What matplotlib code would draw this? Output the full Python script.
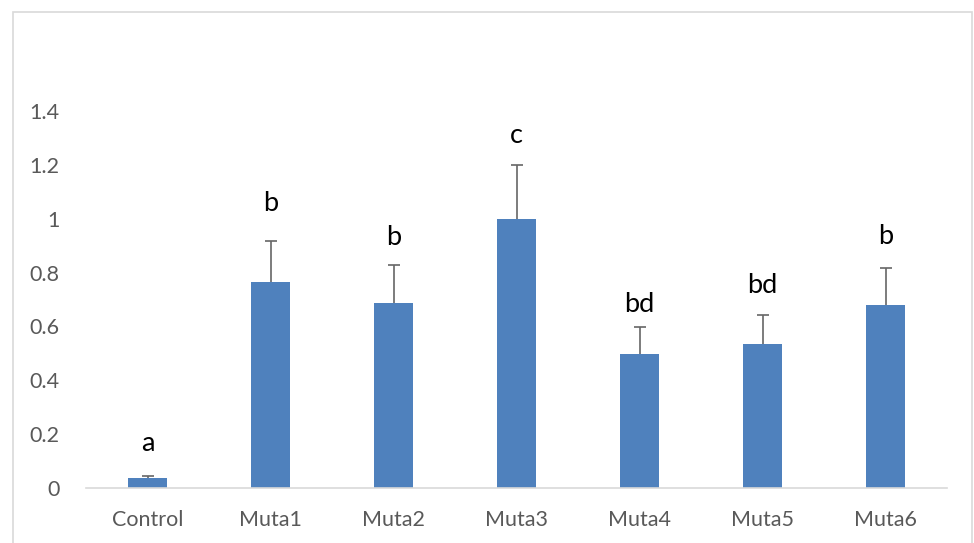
import matplotlib
matplotlib.use("Agg")
import matplotlib.pyplot as plt
from matplotlib.patches import Rectangle

# mean values, standard errors and significance groups per sample
groups = ["Control", "Muta1", "Muta2", "Muta3", "Muta4", "Muta5", "Muta6"]
means = [0.036, 0.764, 0.688, 1.0, 0.498, 0.534, 0.681]
errors = [0.009, 0.154, 0.140, 0.199, 0.101, 0.107, 0.137]
letters = ["a", "b", "b", "c", "bd", "bd", "b"]
letter_base = [0.138, 1.029, 0.902, 1.281, 0.654, 0.725, 0.905]
yticks = [0, 0.2, 0.4, 0.6, 0.8, 1.0, 1.2, 1.4]
ytick_labels = ["0", "0.2", "0.4", "0.6", "0.8", "1", "1.2", "1.4"]

plt.rcParams["font.family"] = ["Lato", "DejaVu Sans"]

W, H = 974, 543
fig = plt.figure(figsize=(W / 100, H / 100), dpi=100)
ax = fig.add_axes([86 / W, (H - 488) / H, (947 - 86) / W, (488 - 111) / H])

# outer chart border
fig.patches.append(Rectangle((12.5 / W, -0.05), (972 - 12.5) / W, (H - 12) / H + 0.05,
                             transform=fig.transFigure, fill=False,
                             edgecolor="#d9d9d9", linewidth=1.2))

x = list(range(len(groups)))
ax.bar(x, means, width=0.31, color="#4f81bd", zorder=2)
_, caps, _ = ax.errorbar(x, means, yerr=[[0] * len(errors), errors], fmt="none",
                         ecolor="#666666", elinewidth=1.2, capsize=4.3,
                         capthick=1.2, zorder=3)
# only the upper whisker gets a cap
caps[0].set_visible(False)

for xi, lab, yb in zip(x, letters, letter_base):
    ax.text(xi, yb, lab, ha="center", va="baseline", fontsize=19.5, color="black")

ax.set_xlim(-0.5, len(groups) - 0.5)
ax.set_ylim(0, 1.4)
ax.set_yticks(yticks)
ax.set_yticklabels(ytick_labels)
ax.set_xticks(x)
ax.set_xticklabels(groups)
ax.tick_params(axis="both", length=0, labelsize=15.5, labelcolor="#595959")
ax.tick_params(axis="x", pad=16)
ax.tick_params(axis="y", pad=19)

for side in ["top", "right", "left"]:
    ax.spines[side].set_visible(False)
ax.spines["bottom"].set_color("#d9d9d9")
ax.spines["bottom"].set_linewidth(1.2)
ax.set_facecolor("none")

fig.savefig("out.png", dpi=100)
